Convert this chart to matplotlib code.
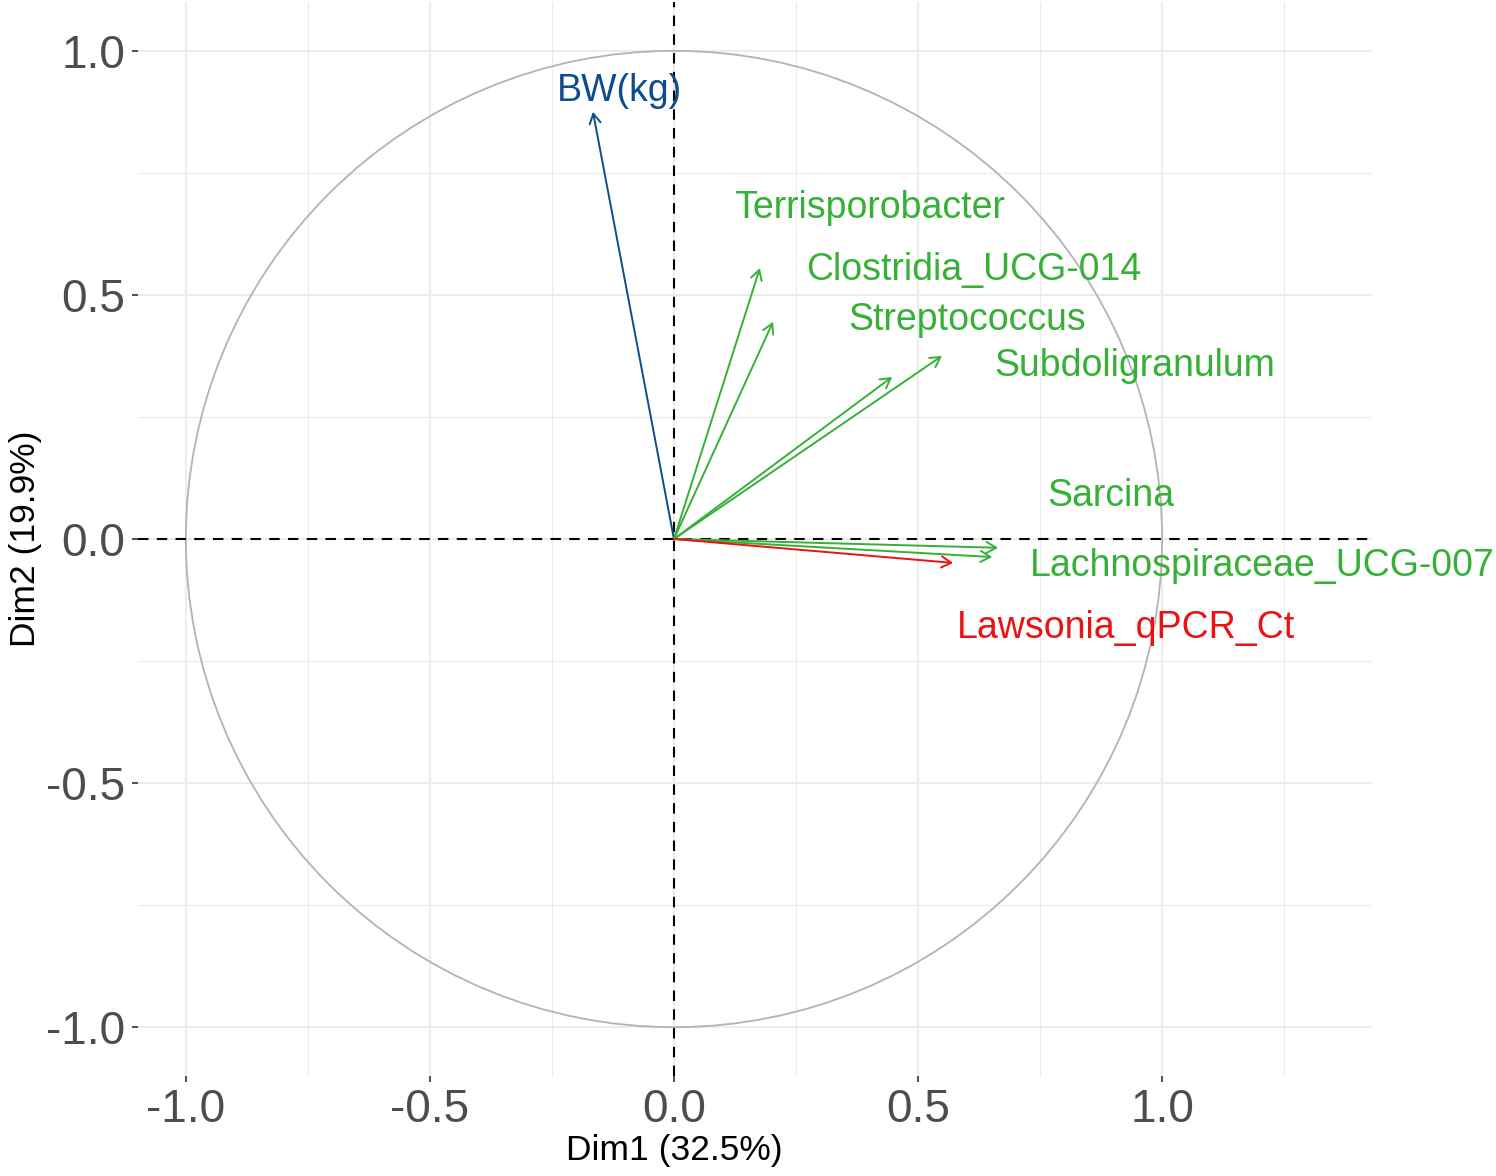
import numpy as np
import matplotlib
matplotlib.use('Agg')
import matplotlib.pyplot as plt
from matplotlib.patches import Circle

plt.rcParams['font.family'] = ['Liberation Sans', 'DejaVu Sans']

# variable coordinates (arrow tips)
variables = ['BW(kg)', 'Terrisporobacter', 'Clostridia_UCG-014', 'Streptococcus',
             'Subdoligranulum', 'Sarcina', 'Lachnospiraceae_UCG-007', 'Lawsonia_qPCR_Ct']
dim1 = [-0.166, 0.176, 0.203, 0.447, 0.549, 0.664, 0.652, 0.572]
dim2 = [0.875, 0.555, 0.445, 0.332, 0.375, -0.018, -0.037, -0.049]
groups = ['blue', 'green', 'green', 'green', 'green', 'green', 'green', 'red']

# label positions (repelled)
label_x = [-0.111, 0.400, 0.615, 0.600, 0.945, 0.895, 1.205, 0.926]
label_y = [0.897, 0.658, 0.531, 0.428, 0.334, 0.068, -0.076, -0.203]

colors = {'blue': '#0F4C8C', 'green': '#36B036', 'red': '#EE1111'}

W, H = 1496, 1176
fig = plt.figure(figsize=(W / 100, H / 100), dpi=100)
ax = fig.add_axes([138 / W, 100 / H, 1234 / W, 1074 / H])

ax.set_xlim(-1.098, 1.430)
ax.set_ylim(-1.100, 1.100)

# grid like theme_minimal
ax.set_xticks([-1.0, -0.5, 0.0, 0.5, 1.0])
ax.set_yticks([-1.0, -0.5, 0.0, 0.5, 1.0])
ax.set_xticks([-0.75, -0.25, 0.25, 0.75, 1.25], minor=True)
ax.set_yticks([-0.75, -0.25, 0.25, 0.75], minor=True)
ax.grid(True, which='major', color='#EBEBEB', lw=1.3)
ax.grid(True, which='minor', color='#EBEBEB', lw=0.8)
ax.set_axisbelow(True)
ax.set_xticklabels(['-1.0', '-0.5', '0.0', '0.5', '1.0'])
ax.set_yticklabels(['-1.0', '-0.5', '0.0', '0.5', '1.0'])
ax.tick_params(which='major', length=4, width=1.2, color='#333333',
               labelsize=33, labelcolor='#4D4D4D', pad=5)
ax.tick_params(which='minor', length=0)
for s in ax.spines.values():
    s.set_visible(False)

ax.add_patch(Circle((0, 0), 1.0, fill=False, color='#B3B3B3', lw=1.3, zorder=1))
ax.axhline(0, color='black', lw=1.5, ls=(0, (5, 4)), zorder=2)
ax.axvline(0, color='black', lw=1.5, ls=(0, (5, 4)), zorder=2)

for name, x, y, g, lx, ly in zip(variables, dim1, dim2, groups, label_x, label_y):
    c = colors[g]
    ax.annotate('', xy=(x, y), xytext=(0, 0),
                arrowprops=dict(arrowstyle='->,head_length=0.7,head_width=0.4',
                                color=c, lw=1.4, shrinkA=0, shrinkB=0), zorder=3)
    ax.text(lx, ly, name, color=c, fontsize=27, ha='center', va='baseline', zorder=4)

ax.set_xlabel('Dim1 (32.5%)', fontsize=25.5, color='black')
ax.set_ylabel('Dim2 (19.9%)', fontsize=25.5, color='black')
ax.xaxis.set_label_coords((674 - 138) / 1234, -0.054)
ax.yaxis.set_label_coords(-0.078, 0.5)

fig.savefig('out.png', dpi=100, facecolor='white')
